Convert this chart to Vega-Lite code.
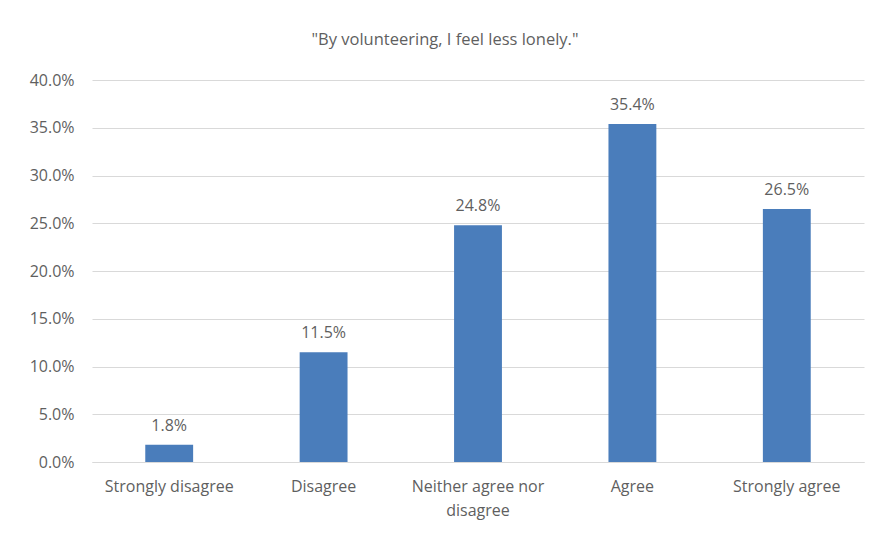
{
  "$schema": "https://vega.github.io/schema/vega-lite/v6.json",
  "autosize": "none",
  "width": 772,
  "height": 382,
  "padding": {"left": 92, "top": 80, "right": 15, "bottom": 72},
  "background": "white",
  "title": {
    "text": "\"By volunteering, I feel less lonely.\"",
    "font": "Open Sans",
    "fontSize": 16.5,
    "fontWeight": "normal",
    "color": "#5f5f5f",
    "anchor": "middle",
    "dx": -33,
    "offset": 24
  },
  "config": {
    "view": {"stroke": null},
    "font": "Open Sans"
  },
  "data": {
    "values": [
      {"response": "Strongly disagree", "pct": 0.018},
      {"response": "Disagree", "pct": 0.115},
      {"response": "Neither agree nor disagree", "pct": 0.248},
      {"response": "Agree", "pct": 0.354},
      {"response": "Strongly agree", "pct": 0.265}
    ]
  },
  "encoding": {
    "x": {
      "field": "response",
      "type": "nominal",
      "sort": null,
      "title": null,
      "scale": {"paddingInner": 0, "paddingOuter": 0},
      "axis": {
        "labelAngle": 0,
        "labelFont": "Open Sans",
        "labelFontSize": 16,
        "labelColor": "#5f5f5f",
        "labelPadding": 16,
        "labelLineHeight": 24,
        "ticks": false,
        "domainColor": "#d9d9d9",
        "labelExpr": "datum.value == 'Neither agree nor disagree' ? ['Neither agree nor', 'disagree'] : datum.value"
      }
    },
    "y": {
      "field": "pct",
      "type": "quantitative",
      "title": null,
      "scale": {"domain": [0, 0.4], "nice": false},
      "axis": {
        "format": ".1%",
        "values": [0, 0.05, 0.1, 0.15, 0.2, 0.25, 0.3, 0.35, 0.4],
        "labelFont": "Open Sans",
        "labelFontSize": 16,
        "labelColor": "#5f5f5f",
        "labelPadding": 18,
        "ticks": false,
        "domain": false,
        "gridColor": "#d9d9d9",
        "gridWidth": 1
      }
    }
  },
  "layer": [
    {
      "mark": {"type": "bar", "color": "#4a7dbb", "width": {"band": 0.31}}
    },
    {
      "mark": {"type": "text", "baseline": "bottom", "dy": -11, "font": "Open Sans", "fontSize": 16, "color": "#5f5f5f"},
      "encoding": {
        "text": {"field": "pct", "type": "quantitative", "format": ".1%"}
      }
    }
  ]
}
